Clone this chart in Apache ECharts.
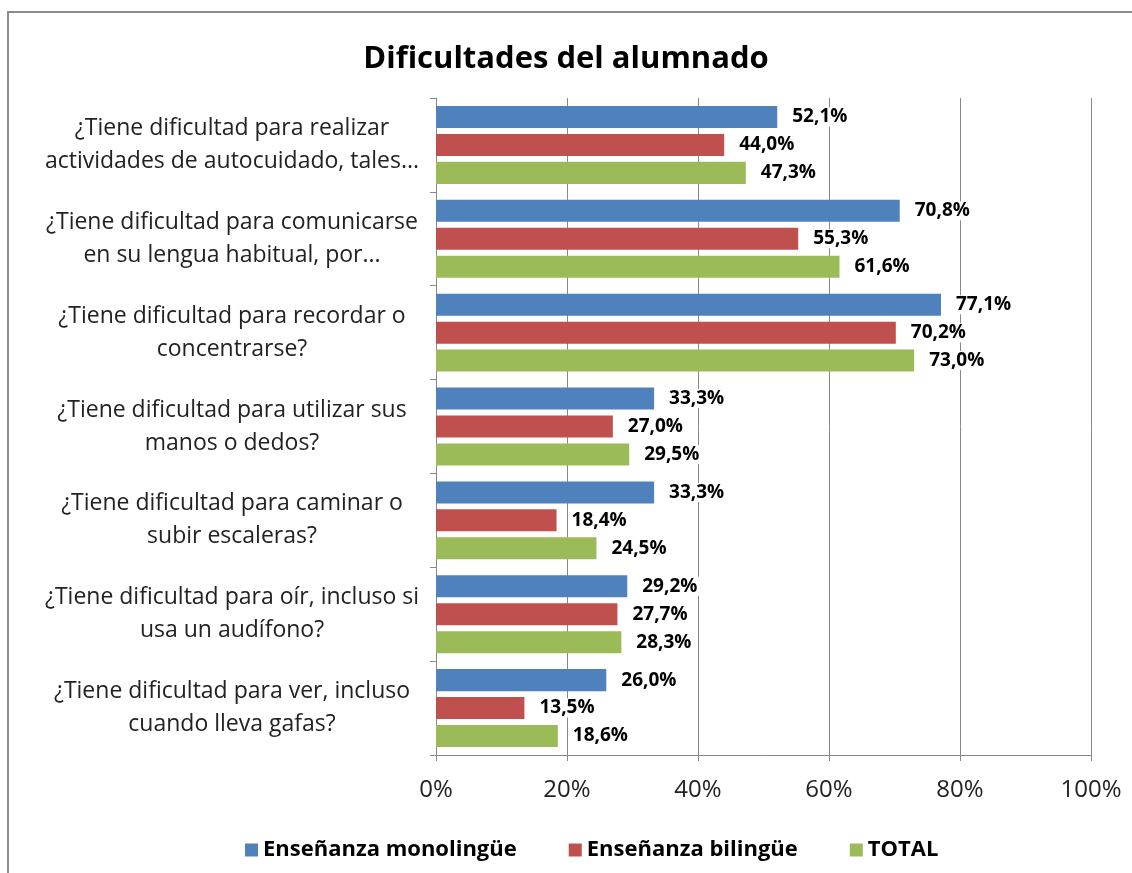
<!DOCTYPE html>
<html>
<head>
<meta charset="utf-8">
<script src="https://cdn.jsdelivr.net/npm/echarts@6/dist/echarts.min.js"></script>
<style>
html,body{margin:0;padding:0;background:#fff;}
#frame{position:absolute;left:7px;top:11px;width:1140px;height:880px;border:2px solid #8c8c8c;box-sizing:border-box;}
#chart{position:absolute;left:0;top:0;width:1132px;height:873px;}
</style>
</head>
<body>
<div id="frame"></div>
<div id="chart"></div>
<script>
var categories = [
  '¿Tiene dificultad para realizar\nactividades de autocuidado, tales...',
  '¿Tiene dificultad para comunicarse\nen su lengua habitual, por...',
  '¿Tiene dificultad para recordar o\nconcentrarse?',
  '¿Tiene dificultad para utilizar sus\nmanos o dedos?',
  '¿Tiene dificultad para caminar o\nsubir escaleras?',
  '¿Tiene dificultad para oír, incluso si\nusa un audífono?',
  '¿Tiene dificultad para ver, incluso\ncuando lleva gafas?'
];
var monolingue = [52.1, 70.8, 77.1, 33.3, 33.3, 29.2, 26.0];
var bilingue = [44.0, 55.3, 70.2, 27.0, 18.4, 27.7, 13.5];
var total = [47.3, 61.6, 73.0, 29.5, 24.5, 28.3, 18.6];
var seriesNames = ['Enseñanza monolingüe', 'Enseñanza bilingüe', 'TOTAL'];
var xTicks = [0, 20, 40, 60, 80, 100];

var FONT = '"Open Sans", "Liberation Sans", sans-serif';
var chart = echarts.init(document.getElementById('chart'), null, {renderer: 'canvas'});

function fmt(v) { return v.toFixed(1).replace('.', ',') + '%'; }
function mk(name, data, color) {
  return {
    name: name, type: 'bar', data: data,
    barCategoryGap: '17%', barGap: '27%',
    itemStyle: {color: color},
    label: {
      show: true, position: 'right', distance: 12,
      formatter: function (p) { return fmt(p.value); },
      fontFamily: FONT, fontWeight: 'bold', fontSize: 19, color: '#000',
      backgroundColor: '#fff', padding: [0, 3]
    }
  };
}

chart.setOption({
  animation: false,
  title: {
    text: 'Dificultades del alumnado', left: 'center', top: 39,
    textStyle: {fontFamily: FONT, fontWeight: 'bold', fontSize: 31, color: '#000'}
  },
  legend: {
    data: seriesNames, bottom: 7, left: 240, itemWidth: 13, itemHeight: 13, itemGap: 52,
    icon: 'rect',
    textStyle: {fontFamily: FONT, fontWeight: 'bold', fontSize: 22, color: '#000'}
  },
  grid: {left: 436, right: 41, top: 98, bottom: 118, containLabel: false},
  xAxis: {
    type: 'value', min: 0, max: 100, interval: 20,
    axisLine: {show: true, lineStyle: {color: '#888'}},
    axisTick: {show: true, length: 6, lineStyle: {color: '#888'}},
    splitLine: {show: true, lineStyle: {color: '#888'}},
    axisLabel: {
      margin: 23, fontFamily: FONT, fontSize: 24, color: '#222',
      formatter: function (v) { return xTicks.indexOf(v) >= 0 ? v + '%' : ''; }
    }
  },
  yAxis: {
    type: 'category', data: categories, inverse: true,
    axisLine: {show: true, lineStyle: {color: '#888'}},
    axisTick: {show: true, length: 6, lineStyle: {color: '#888'}},
    axisLabel: {
      margin: 204, align: 'center', fontFamily: FONT, fontSize: 23, lineHeight: 33, color: '#222'
    }
  },
  series: [
    mk(seriesNames[0], monolingue, '#4F81BD'),
    mk(seriesNames[1], bilingue, '#C0504D'),
    mk(seriesNames[2], total, '#9BBB59')
  ]
});
</script>
</body>
</html>
